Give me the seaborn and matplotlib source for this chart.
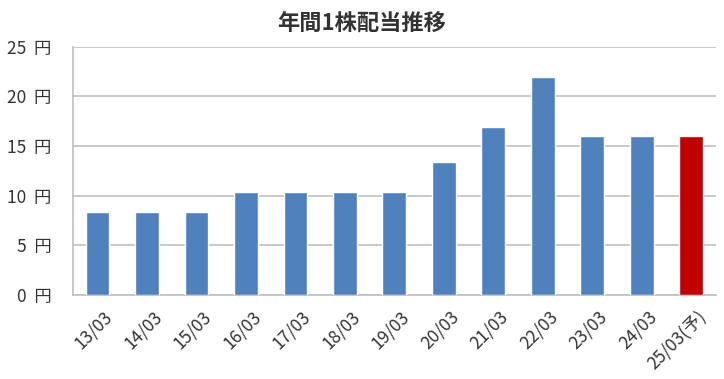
import pandas as pd
import seaborn as sns
import matplotlib.pyplot as plt
from matplotlib.transforms import ScaledTranslation

years = ["13/03", "14/03", "15/03", "16/03", "17/03", "18/03", "19/03",
         "20/03", "21/03", "22/03", "23/03", "24/03", "25/03(予)"]
dividends = [8.4, 8.4, 8.4, 10.4, 10.4, 10.4, 10.4, 13.4, 16.9, 21.9, 16.0, 16.0, 16.0]
kind = ["実績"] * 12 + ["予想"]
y_ticks = [0, 5, 10, 15, 20, 25]

df = pd.DataFrame({"year": years, "dividend": dividends, "kind": kind})

sns.set_style("white")
plt.rcParams['font.family'] = ['Noto Sans CJK JP', 'DejaVu Sans']

fig = plt.figure(figsize=(7.24, 3.79), dpi=100)
ax = fig.add_axes([0.1004, 0.2216, 0.8886, 0.6552])

grid_col = "#BFBFBF"
text_col = "#333333"

sns.barplot(data=df, x="year", y="dividend", hue="kind",
            palette={"実績": "#4F81BD", "予想": "#C00000"}, saturation=1,
            width=0.48, dodge=False, legend=False, ax=ax, zorder=3)

ax.set_ylim(0, 25)
ax.set_xlim(-0.5, len(years) - 0.5)
ax.set_yticks(y_ticks)
ax.set_yticklabels([f"{v}  円" for v in y_ticks], fontsize=12.5, color=text_col)
ax.yaxis.grid(True, color=grid_col, linewidth=1.2, zorder=0)
ax.set_xlabel("")
ax.set_ylabel("")

# category ticks sit between bars, pointing inward
ax.set_xticks([i - 0.5 for i in range(len(years) + 1)], minor=False)
ax.set_xticklabels([""] * (len(years) + 1))
ax.tick_params(axis="x", direction="in", length=10, color=grid_col, width=1)
ax.set_xticks(range(len(years)), minor=True)
ax.set_xticklabels(years, minor=True, rotation=45, ha="right",
                   rotation_mode="anchor", fontsize=12.5, color=text_col)
ax.tick_params(axis="x", which="minor", length=0, pad=9)
shift = ScaledTranslation(6 / 100, 0, fig.dpi_scale_trans)
for lbl in ax.get_xticklabels(minor=True):
    lbl.set_transform(lbl.get_transform() + shift)
ax.tick_params(axis="y", direction="out", length=7, color=grid_col, width=1, pad=8)

for side in ["top", "right"]:
    ax.spines[side].set_visible(False)
for side in ["left", "bottom"]:
    ax.spines[side].set_color(grid_col)
    ax.spines[side].set_linewidth(1.2)

fig.suptitle("年間1株配当推移", x=0.5, y=0.97, fontsize=16,
             fontweight="bold", color=text_col)

fig.savefig("out.png", dpi=100)
